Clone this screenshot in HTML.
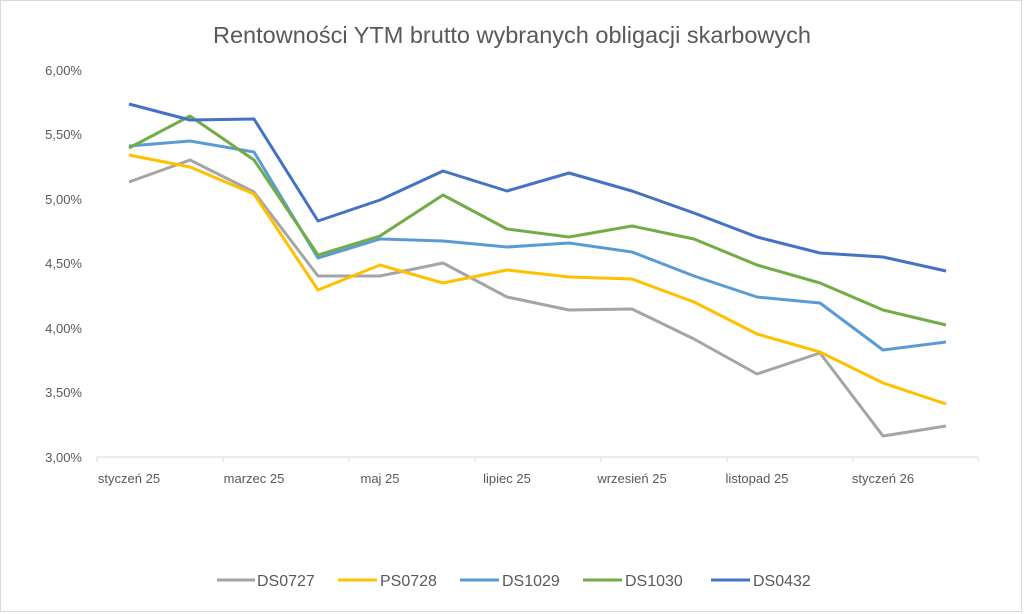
<!DOCTYPE html>
<html><head><meta charset="utf-8"><style>
body{margin:0;background:#fff;}
svg{display:block;font-family:"Liberation Sans",sans-serif;}
</style></head><body>
<svg width="1024" height="614" viewBox="0 0 1024 614">
<rect x="0.5" y="0.5" width="1021" height="611" fill="#fff" stroke="#d9d9d9"/>
<text x="512" y="43" text-anchor="middle" font-size="23" fill="#595959" textLength="598" lengthAdjust="spacingAndGlyphs">Rentowności YTM brutto wybranych obligacji skarbowych</text>
<g font-size="13" fill="#595959" text-anchor="end">
<text x="82" y="75">6,00%</text><text x="82" y="139">5,50%</text><text x="82" y="204">5,00%</text>
<text x="82" y="268">4,50%</text><text x="82" y="333">4,00%</text><text x="82" y="397">3,50%</text><text x="82" y="462">3,00%</text>
</g>
<line x1="97" y1="457" x2="978" y2="457" stroke="#d9d9d9"/>
<g stroke="#d9d9d9"><line x1="97" y1="457" x2="97" y2="462"/><line x1="223" y1="457" x2="223" y2="462"/><line x1="349" y1="457" x2="349" y2="462"/><line x1="475" y1="457" x2="475" y2="462"/><line x1="601" y1="457" x2="601" y2="462"/><line x1="727" y1="457" x2="727" y2="462"/><line x1="853" y1="457" x2="853" y2="462"/><line x1="978" y1="457" x2="978" y2="462"/></g>
<g font-size="13" fill="#595959" text-anchor="middle">
<text x="129" y="483">styczeń 25</text><text x="254" y="483">marzec 25</text><text x="380" y="483">maj 25</text>
<text x="507" y="483">lipiec 25</text><text x="632" y="483">wrzesień 25</text><text x="757" y="483">listopad 25</text><text x="883" y="483">styczeń 26</text>
</g>
<g fill="none" stroke-width="3" stroke-linejoin="round">
<polyline stroke="#a5a5a5" points="129,182 190,160 254,192 318,276 380,276 443,263 507,297 569,310 632,309 694,339 757,374 820,353 883,436 946,426"/>
<polyline stroke="#ffc000" points="129,155 190,167 254,194 318,290 380,265 443,283 507,270 569,277 632,279 694,302 757,334 820,352 883,383 946,404"/>
<polyline stroke="#5b9bd5" points="129,146 190,141 254,152 318,258 380,239 443,241 507,247 569,243 632,252 694,276 757,297 820,303 883,350 946,342"/>
<polyline stroke="#70ad47" points="129,148 190,116 254,160 318,255 380,236 443,195 507,229 569,237 632,226 694,239 757,265 820,283 883,310 946,325"/>
<polyline stroke="#4472c4" points="129,104 190,120 254,119 318,221 380,200 443,171 507,191 569,173 632,191 694,213 757,237 820,253 883,257 946,271"/>
</g>
<g stroke-width="3">
<line x1="217" y1="580" x2="255" y2="580" stroke="#a5a5a5"/>
<line x1="338" y1="580" x2="377" y2="580" stroke="#ffc000"/>
<line x1="460" y1="580" x2="499" y2="580" stroke="#5b9bd5"/>
<line x1="583" y1="580" x2="622" y2="580" stroke="#70ad47"/>
<line x1="711" y1="580" x2="750" y2="580" stroke="#4472c4"/>
</g>
<g font-size="16" fill="#595959">
<text x="257" y="586">DS0727</text><text x="380" y="586">PS0728</text><text x="502" y="586">DS1029</text>
<text x="625" y="586">DS1030</text><text x="753" y="586">DS0432</text>
</g>
</svg>
</body></html>
